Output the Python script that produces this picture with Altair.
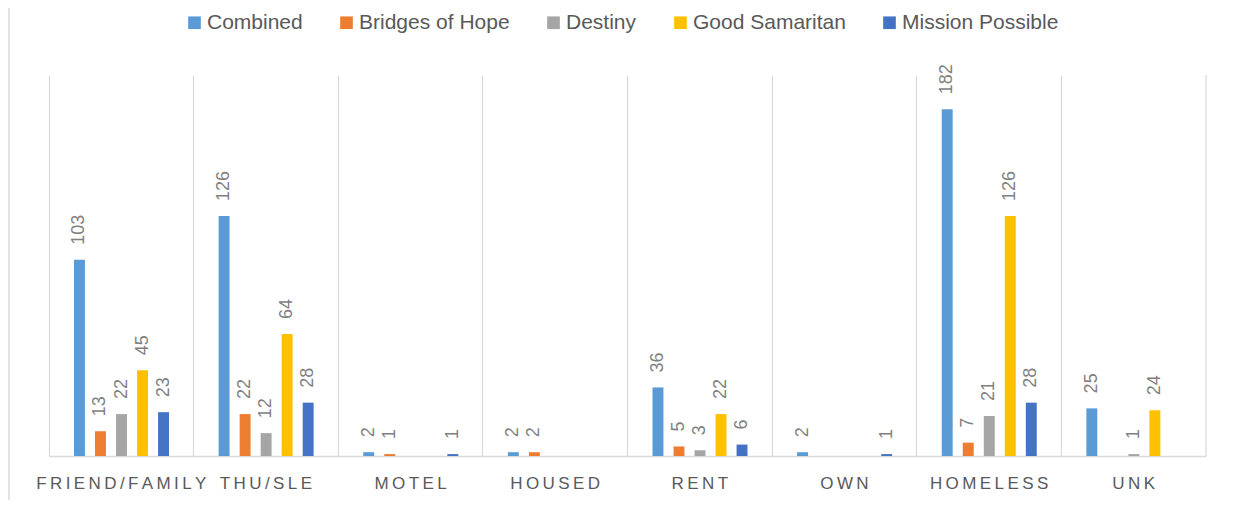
import altair as alt
import pandas as pd

categories = ["FRIEND/FAMILY", "THU/SLE", "MOTEL", "HOUSED", "RENT", "OWN", "HOMELESS", "UNK"]
series = ["Combined", "Bridges of Hope", "Destiny", "Good Samaritan", "Mission Possible"]
colors = ["#5B9BD5", "#ED7D31", "#A5A5A5", "#FFC000", "#4472C4"]

combined = [103, 126, 2, 2, 36, 2, 182, 25]
bridges_of_hope = [13, 22, 1, 2, 5, None, 7, None]
destiny = [22, 12, None, None, 3, None, 21, 1]
good_samaritan = [45, 64, None, None, 22, None, 126, 24]
mission_possible = [23, 28, 1, None, 6, 1, 28, None]

values = [combined, bridges_of_hope, destiny, good_samaritan, mission_possible]
rows = []
for s, vals in zip(series, values):
    for c, v in zip(categories, vals):
        if v is not None:
            rows.append({"category": c, "series": s, "value": v})
df = pd.DataFrame(rows)

W, H = 1157, 381
FONT = "Liberation Sans"
GRAY = "#595959"

x_enc = alt.X("category:N", sort=categories, scale=alt.Scale(paddingInner=0, paddingOuter=0),
              axis=alt.Axis(title=None, labelAngle=0, labelFontSize=17, labelColor=GRAY, labelFont=FONT,
                            labelPadding=19, ticks=False, domainColor="#d9d9d9", domainWidth=1.5,
                            grid=True, gridColor="#d9d9d9", gridWidth=1.2, bandPosition=0,
                            labelExpr="join(split(datum.label, ''), '\u2009')"))
xoff = alt.XOffset("series:N", sort=series,
                   scale=alt.Scale(domain=series, paddingInner=0.48, paddingOuter=0, range=[25, 120]))
y_enc = alt.Y("value:Q", scale=alt.Scale(domain=[0, 200], nice=False), axis=None)

bars = alt.Chart(df).mark_bar().encode(
    x=x_enc, xOffset=xoff, y=y_enc,
    color=alt.Color("series:N", sort=series,
                    scale=alt.Scale(domain=series, range=colors),
                    legend=alt.Legend(title=None, orient="none", direction="horizontal",
                                      legendX=135, legendY=-63, padding=0,
                                      symbolType="square", symbolSize=160, symbolStrokeWidth=0,
                                      labelFontSize=21, labelColor=GRAY, labelFont=FONT,
                                      columnPadding=33, symbolOffset=0, labelOffset=2)),
)

labels = alt.Chart(df).mark_text(angle=270, align="left", baseline="middle", dx=15,
                                 fontSize=18, color="#7F7F7F", font=FONT).encode(
    x=alt.X("category:N", sort=categories), xOffset=xoff, y=y_enc, text=alt.Text("value:Q"),
)

right_edge = alt.Chart(pd.DataFrame({"a": [0]})).mark_rule(color="#d9d9d9", strokeWidth=1.2).encode(
    x=alt.value(W), y=alt.value(0), y2=alt.value(H)
)
left_border = alt.Chart(pd.DataFrame({"a": [0]})).mark_rule(color="#d9d9d9", strokeWidth=1.5).encode(
    x=alt.value(-40), y=alt.value(-67), y2=alt.value(H + 44)
)

chart = alt.layer(bars, labels, right_edge, left_border).properties(
    width=W, height=H,
    autosize=alt.AutoSizeParams(type="none"),
    padding={"left": 41, "top": 67, "right": 10, "bottom": 44},
).configure(background="white").configure_view(stroke=None)

chart.save("out.html", embed_options={"renderer": "svg", "actions": False})
